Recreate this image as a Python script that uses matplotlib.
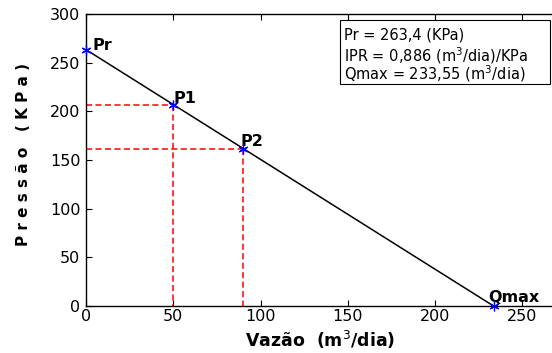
import matplotlib

matplotlib.use("Agg")
import matplotlib.pyplot as plt
from matplotlib.patches import Rectangle

plt.rcParams["font.family"] = ["DejaVu Sans"]

# IPR curve parameters
pr = 263.4
ipr = 0.886
qmax = 233.55

# operating points
point_names = ["Pr", "P1", "P2", "Qmax"]
point_q = [0.0, 50.0, 90.0, 233.55]
point_p = [263.4, 206.97, 161.8, 0.0]

x_ticks = [0, 50, 100, 150, 200, 250]
y_ticks = [0, 50, 100, 150, 200, 250, 300]

info_lines = [
    "Pr = 263,4 (KPa)",
    "IPR = 0,886 (m$^3$/dia)/KPa",
    "Qmax = 233,55 (m$^3$/dia)",
]

fig = plt.figure(figsize=(5.52, 3.53), dpi=100)
W, H = 552, 353
left, right, top, bottom = 86, 560, 14, 306
ax = fig.add_axes([left / W, 1 - bottom / H, (right - left) / W, (bottom - top) / H])

# straight-line IPR
ax.plot([0, qmax], [pr, 0], color="black", linewidth=1.1, zorder=3)

# dashed guides for P1 and P2
dash = (0, (4, 2.2))
for q, p in zip(point_q[1:3], point_p[1:3]):
    ax.plot([0, q], [p, p], color="red", linestyle=dash, linewidth=1.1, zorder=2)
    ax.plot([q, q], [p, 0], color="red", linestyle=dash, linewidth=1.1, zorder=2)

ax.plot(point_q, point_p, linestyle="none", marker=(6, 2, 0), markersize=7,
        color="blue", markeredgewidth=0.9, clip_on=False, zorder=4)

offsets = {"Pr": (5, 0), "P1": (0, 1), "P2": (-2, 1.5), "Qmax": (-4, 3)}
for name, q, p in zip(point_names, point_q, point_p):
    dx, dy = offsets[name]
    ax.annotate(name, (q, p), xytext=(dx, dy), textcoords="offset points",
                fontsize=11.5, fontweight="bold", ha="left", va="baseline")

ax.set_xlim(0, (right - left) / 1.745)
ax.set_ylim(0, 300)
ax.set_xticks(x_ticks)
ax.set_yticks(y_ticks)
ax.tick_params(direction="in", length=4, width=0.8, labelsize=11.5,
               top=True, right=False)
ax.tick_params(axis="x", pad=2)
ax.tick_params(axis="y", pad=4)
ax.spines["right"].set_visible(False)
for s in ax.spines.values():
    s.set_linewidth(1.0)

ax.set_xlabel("Vazão  (m$^3$/dia)", fontsize=12.5, fontweight="bold")
ax.xaxis.set_label_coords((320 - left) / (right - left), -(329 - bottom) / (bottom - top))
ax.set_ylabel("P r e s s ã o   ( K P a )", fontsize=11, fontweight="bold")
ax.yaxis.set_label_coords(-(left - 31) / (right - left), (bottom - 154) / (bottom - top))

# info box
fig.patches.append(Rectangle((340 / W, 1 - 84 / H), 210 / W, 64 / H,
                             transform=fig.transFigure, facecolor="white",
                             edgecolor="black", linewidth=0.8, zorder=5))
for line, base in zip(info_lines, [40, 61, 80]):
    fig.text(344 / W, 1 - base / H, line, fontsize=10.5, ha="left", va="baseline",
             zorder=6)

fig.savefig("out.png", dpi=100)
